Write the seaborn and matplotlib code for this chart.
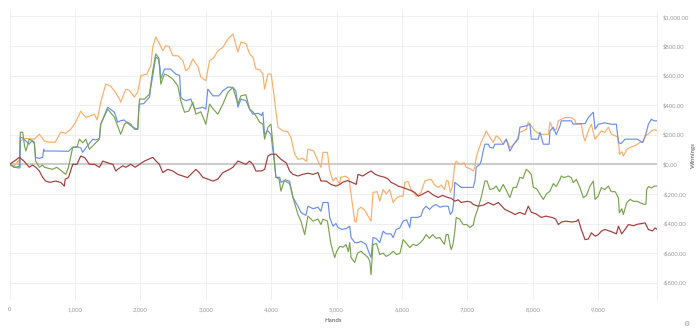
import matplotlib
matplotlib.use("Agg")
import matplotlib.pyplot as plt
from matplotlib.ticker import FuncFormatter, MultipleLocator
import pandas as pd
import seaborn as sns

# Cumulative winnings per series, sampled at hand counts
blue_hands = [0, 72, 148, 160, 164, 200, 300, 340, 378, 398, 455, 505, 521, 531, 700, 900, 965, 1030, 1090, 1118, 1164, 1271, 1320, 1373, 1393, 1500, 1603, 1653, 1699, 1750, 1800, 1883, 1960, 1975, 1986, 2050, 2139, 2159, 2189, 2235, 2280, 2300, 2312, 2368, 2460, 2541, 2600, 2618, 2649, 2700, 2771, 2828, 2955, 3001, 3031, 3108, 3200, 3261, 3338, 3414, 3460, 3491, 3537, 3613, 3670, 3720, 3800, 3850, 3873, 3899, 3950, 3996, 4027, 4053, 4072, 4130, 4149, 4220, 4282, 4333, 4409, 4455, 4530, 4562, 4640, 4715, 4761, 4792, 4870, 4895, 4945, 4990, 5022, 5080, 5144, 5201, 5221, 5277, 5328, 5374, 5450, 5507, 5527, 5557, 5600, 5660, 5711, 5760, 5833, 5864, 5910, 5966, 6017, 6070, 6119, 6139, 6240, 6290, 6323, 6369, 6420, 6470, 6521, 6580, 6640, 6706, 6740, 6770, 6790, 6808, 6905, 7089, 7115, 7135, 7191, 7211, 7242, 7268, 7319, 7344, 7395, 7420, 7548, 7594, 7650, 7701, 7777, 7803, 7900, 7957, 7977, 8084, 8110, 8161, 8250, 8263, 8314, 8359, 8416, 8436, 8589, 8620, 8700, 8800, 8849, 8895, 8926, 8952, 9003, 9100, 9200, 9278, 9309, 9350, 9411, 9600, 9675, 9720, 9768, 9814, 9850, 9906]
blue_win = [0, -20, -25, -20, 183, 178, 136, 160, 140, 47, 40, 47, 102, 90, 90, 88, 115, 120, 110, 81, 110, 170, 165, 175, 271, 386, 352, 285, 295, 300, 280, 251, 237, 380, 407, 410, 454, 520, 599, 725, 710, 650, 576, 644, 644, 610, 600, 454, 440, 430, 441, 373, 386, 373, 508, 463, 463, 497, 522, 520, 495, 386, 441, 430, 373, 339, 345, 330, 352, 203, 226, 203, 90, 0, -88, -88, -122, -105, -115, -224, -283, -325, -345, -283, -300, -290, -317, -258, -258, -359, -418, -400, -427, -440, -435, -418, -495, -529, -529, -520, -542, -610, -630, -495, -500, -529, -452, -470, -470, -495, -441, -430, -384, -375, -427, -359, -359, -350, -305, -283, -305, -283, -271, -290, -283, -283, -339, -320, -260, -122, -156, -156, -113, -20, 0, 22, 90, 136, 136, 115, 110, 136, 136, 170, 90, 130, 170, 251, 260, 271, 170, 170, 217, 136, 136, 226, 251, 200, 260, 294, 294, 271, 275, 275, 316, 339, 352, 237, 271, 280, 271, 271, 147, 140, 170, 170, 147, 190, 271, 305, 294, 294]

orange_hands = [0, 72, 148, 164, 250, 378, 455, 531, 608, 700, 781, 857, 934, 1010, 1087, 1164, 1220, 1297, 1340, 1393, 1470, 1540, 1603, 1679, 1699, 1776, 1830, 1909, 1960, 2006, 2100, 2159, 2189, 2235, 2292, 2342, 2388, 2440, 2496, 2572, 2649, 2695, 2740, 2802, 2880, 2924, 3001, 3057, 3120, 3184, 3261, 3338, 3414, 3491, 3537, 3613, 3670, 3720, 3766, 3823, 3873, 3899, 3950, 4000, 4053, 4103, 4180, 4250, 4302, 4359, 4409, 4480, 4540, 4562, 4650, 4715, 4761, 4792, 4860, 4895, 4945, 4990, 5048, 5060, 5144, 5190, 5221, 5277, 5300, 5328, 5374, 5430, 5481, 5527, 5557, 5620, 5660, 5711, 5760, 5810, 5864, 5910, 5966, 6017, 6043, 6093, 6139, 6216, 6290, 6349, 6400, 6446, 6500, 6552, 6600, 6650, 6680, 6706, 6740, 6770, 6808, 6829, 6880, 6950, 6982, 7040, 7089, 7115, 7135, 7165, 7211, 7268, 7288, 7344, 7395, 7441, 7500, 7548, 7594, 7650, 7700, 7760, 7803, 7850, 7901, 7931, 7977, 8034, 8084, 8130, 8240, 8263, 8314, 8359, 8390, 8436, 8500, 8589, 8640, 8666, 8742, 8773, 8799, 8849, 8895, 8952, 9003, 9048, 9100, 9156, 9200, 9250, 9309, 9324, 9360, 9385, 9436, 9488, 9560, 9641, 9690, 9717, 9768, 9814, 9860, 9906]
orange_win = [0, -10, 30, 160, 175, 170, 203, 158, 149, 150, 217, 210, 237, 285, 359, 318, 325, 339, 300, 420, 542, 530, 497, 441, 420, 508, 500, 454, 490, 599, 610, 667, 793, 861, 814, 768, 802, 795, 734, 734, 700, 633, 650, 712, 660, 590, 565, 700, 720, 768, 790, 847, 881, 759, 827, 815, 746, 725, 644, 640, 610, 508, 610, 610, 429, 251, 226, 222, 183, 68, 34, 40, 20, 102, 90, 22, -20, 81, 81, -45, -113, -90, -136, -88, -80, -100, -203, -384, -390, -305, -290, -310, -350, -384, -190, -185, -249, -170, -200, -170, -258, -230, -215, -215, -122, -115, -170, -215, -190, -113, -105, -102, -140, -156, -140, -170, -110, -113, -190, -150, 0, 22, 0, 10, -20, -30, -45, -20, 47, 90, 149, 203, 226, 183, 149, 192, 170, 136, 170, 115, 130, 170, 217, 225, 237, 285, 260, 226, 210, 203, 203, 285, 230, 237, 294, 305, 316, 316, 300, 271, 271, 192, 158, 226, 271, 170, 200, 226, 215, 251, 205, 195, 183, 68, 85, 56, 100, 115, 125, 149, 150, 192, 205, 226, 235, 226]

green_hands = [0, 72, 148, 164, 200, 230, 250, 300, 350, 378, 398, 455, 505, 531, 658, 720, 781, 857, 900, 965, 1030, 1067, 1118, 1164, 1220, 1271, 1373, 1393, 1500, 1603, 1679, 1699, 1756, 1800, 1853, 1909, 1960, 1986, 2062, 2139, 2189, 2235, 2280, 2312, 2368, 2420, 2496, 2572, 2618, 2675, 2740, 2802, 2848, 2924, 3001, 3057, 3120, 3184, 3261, 3338, 3414, 3491, 3537, 3613, 3670, 3720, 3766, 3823, 3873, 3899, 3950, 3996, 4027, 4053, 4072, 4120, 4149, 4200, 4282, 4333, 4409, 4455, 4512, 4562, 4640, 4715, 4761, 4792, 4860, 4915, 4971, 5000, 5048, 5100, 5144, 5180, 5201, 5221, 5277, 5320, 5374, 5430, 5481, 5507, 5527, 5557, 5610, 5660, 5711, 5757, 5810, 5864, 5920, 5970, 6017, 6060, 6119, 6170, 6220, 6280, 6323, 6369, 6420, 6470, 6521, 6578, 6630, 6650, 6675, 6706, 6740, 6752, 6780, 6808, 6829, 6880, 6936, 6990, 7038, 7089, 7115, 7165, 7211, 7268, 7300, 7344, 7395, 7441, 7490, 7548, 7600, 7650, 7701, 7750, 7803, 7850, 7901, 7931, 7977, 8008, 8060, 8110, 8161, 8210, 8263, 8314, 8359, 8416, 8436, 8480, 8543, 8589, 8620, 8666, 8722, 8773, 8820, 8875, 8926, 8952, 9000, 9048, 9100, 9156, 9200, 9260, 9309, 9324, 9360, 9385, 9436, 9488, 9540, 9600, 9641, 9700, 9730, 9742, 9768, 9814, 9860, 9906]
green_win = [0, -20, -15, 217, 217, 120, 90, 170, 160, 150, 22, -20, -5, -20, -34, -20, -40, -68, -20, 115, 115, 170, 145, 170, 102, 125, 170, 271, 373, 318, 226, 203, 271, 285, 271, 237, 237, 441, 441, 475, 633, 746, 720, 542, 610, 600, 576, 531, 429, 352, 360, 420, 339, 355, 271, 407, 370, 339, 407, 488, 520, 407, 463, 470, 373, 355, 328, 285, 271, 170, 251, 271, 136, 0, -88, -100, -181, -110, -130, -224, -339, -384, -475, -350, -384, -370, -407, -370, -384, -542, -630, -590, -554, -560, -542, -590, -529, -630, -664, -600, -588, -610, -630, -655, -746, -542, -535, -610, -600, -622, -610, -588, -610, -600, -509, -530, -563, -540, -550, -530, -509, -475, -500, -475, -500, -495, -530, -540, -475, -475, -554, -576, -540, -452, -359, -370, -407, -407, -427, -410, -359, -292, -224, -113, -113, -170, -165, -147, -185, -136, -180, -224, -156, -156, -88, -95, -34, -45, -68, -156, -165, -203, -237, -200, -181, -130, -150, -102, -79, -90, -79, -90, -124, -102, -158, -226, -210, -147, -113, -237, -215, -158, -170, -147, -185, -185, -226, -328, -300, -339, -260, -237, -250, -250, -260, -270, -270, -170, -150, -160, -147, -147]

red_hands = [0, 72, 148, 220, 300, 350, 400, 455, 505, 551, 620, 700, 781, 837, 850, 900, 965, 1030, 1087, 1150, 1220, 1300, 1373, 1424, 1500, 1580, 1623, 1653, 1730, 1776, 1853, 1920, 1986, 2062, 2130, 2189, 2240, 2290, 2342, 2420, 2496, 2572, 2649, 2720, 2771, 2848, 2900, 2955, 3031, 3108, 3184, 3261, 3364, 3414, 3491, 3560, 3613, 3670, 3720, 3766, 3850, 3900, 3950, 3996, 4072, 4149, 4230, 4282, 4333, 4409, 4480, 4562, 4640, 4715, 4761, 4840, 4915, 4990, 5048, 5100, 5170, 5250, 5300, 5328, 5400, 5481, 5527, 5590, 5660, 5737, 5790, 5833, 5900, 5940, 6000, 6093, 6150, 6196, 6247, 6300, 6400, 6470, 6552, 6620, 6700, 6752, 6808, 6860, 6905, 7000, 7050, 7089, 7165, 7250, 7319, 7400, 7472, 7520, 7574, 7670, 7727, 7800, 7880, 7931, 7980, 8050, 8130, 8200, 8300, 8350, 8390, 8440, 8500, 8600, 8666, 8696, 8742, 8799, 8849, 8895, 8952, 9003, 9048, 9100, 9200, 9278, 9309, 9360, 9411, 9462, 9540, 9600, 9717, 9768, 9830, 9870, 9906]
red_win = [0, 22, 47, 22, -20, -5, -20, -45, -88, -113, -122, -113, -122, -147, -100, -90, 0, 0, 56, 45, 0, 0, -20, 22, 10, 0, -45, -34, -10, -20, 0, -20, 0, 22, 35, 47, 22, 0, -56, -34, -45, -68, -79, -90, -68, -34, -56, -88, -100, -113, -100, -56, -34, -20, 22, 10, 0, 22, 0, -45, -45, -34, 56, 68, 68, 34, 10, -45, -68, -79, -68, -60, -68, -56, -113, -113, -136, -147, -136, -120, -110, -125, -136, -68, -79, -56, -45, -68, -79, -88, -100, -122, -136, -147, -155, -170, -180, -190, -215, -205, -181, -205, -224, -210, -224, -230, -249, -240, -258, -250, -255, -271, -283, -275, -258, -275, -258, -280, -305, -325, -339, -325, -339, -283, -325, -335, -359, -350, -360, -370, -407, -390, -384, -390, -385, -373, -441, -509, -505, -463, -485, -475, -452, -440, -455, -470, -418, -470, -440, -407, -415, -405, -396, -441, -450, -430, -441]

series_names = ["orange", "blue", "green", "red"]
series_colors = {"orange": "#ffad66", "blue": "#6b8ff0", "green": "#78a44e", "red": "#a83a3a"}
x_ticks = [0, 1000, 2000, 3000, 4000, 5000, 6000, 7000, 8000, 9000]

frames = []
for name, hands, win in [("orange", orange_hands, orange_win), ("blue", blue_hands, blue_win),
                         ("green", green_hands, green_win), ("red", red_hands, red_win)]:
    frames.append(pd.DataFrame({"Hands": hands, "Winnings": win, "series": name}))
df = pd.concat(frames, ignore_index=True)

sns.set_theme(style="white")
plt.rcParams["font.family"] = ["Lato", "DejaVu Sans"]

fig = plt.figure(figsize=(7.0, 3.29), dpi=100)
ax = fig.add_axes([9.6 / 700, 29 / 329, (657.3 - 9.6) / 700, 290 / 329])

grid_c = "#ececec"
ax.set_axisbelow(True)
ax.grid(True, color=grid_c, linewidth=0.6)
ax.axhline(0, color="#cccccc", linewidth=1.5, zorder=1)

sns.lineplot(data=df, x="Hands", y="Winnings", hue="series", hue_order=series_names,
             palette=series_colors, estimator=None, sort=False, legend=False,
             linewidth=0.85, ax=ax, zorder=3)

ax.set_xlim(0, 9904)
ax.set_ylim(-917, 1043)
ax.set_xticks(x_ticks)
ax.yaxis.set_major_locator(MultipleLocator(200))
ax.xaxis.set_major_formatter(FuncFormatter(lambda v, p: f"{int(v):,}"))
ax.yaxis.set_major_formatter(FuncFormatter(
    lambda v, p: ("-" if v < 0 else "") + f"${abs(v):,.2f}"))
ax.yaxis.tick_right()
ax.tick_params(axis="both", length=0, labelsize=4.2, colors="#9a9a9a")
ax.tick_params(axis="x", pad=5)
ax.tick_params(axis="y", pad=4)

for side in ["top", "bottom", "left"]:
    ax.spines[side].set_visible(False)
ax.spines["right"].set_color(grid_c)
ax.spines["right"].set_linewidth(0.6)

ax.set_xlabel("")
ax.set_ylabel("")
fig.text(333.5 / 700, 1 - 320 / 329, "Hands", ha="center", va="center",
         fontsize=4.4, color="#7a7a7a", fontweight="bold")
fig.text(693 / 700, 1 - 155 / 329, "Winnings", ha="center", va="center",
         fontsize=4.4, color="#7a7a7a", fontweight="bold", rotation=90)

# small settings glyph in the corner
fig.text(686.7 / 700, 1 - 324 / 329, "\u2699", ha="center", va="center",
         fontsize=5, color="#9a9a9a", family="DejaVu Sans")

fig.savefig("out.png", dpi=100)
